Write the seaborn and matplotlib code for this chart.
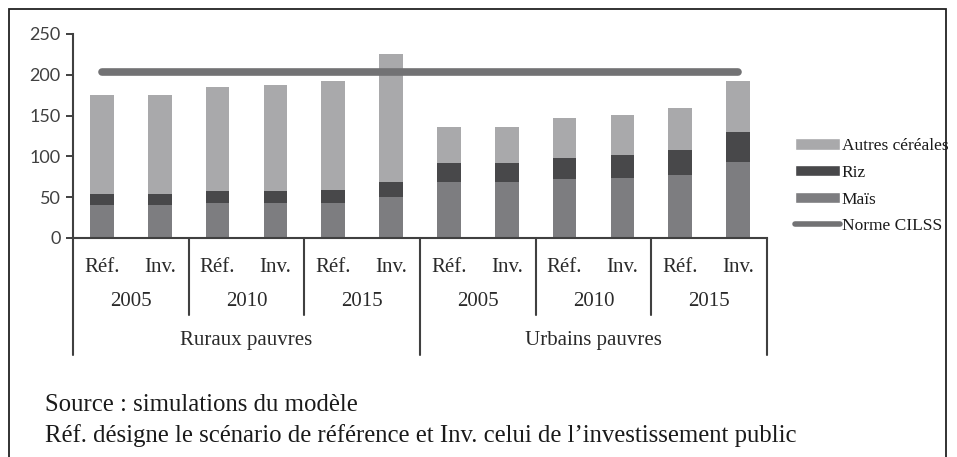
import numpy as np
import matplotlib
matplotlib.use("Agg")
import matplotlib.pyplot as plt
import matplotlib.transforms as mtransforms
from matplotlib.patches import Patch, Rectangle
from matplotlib.lines import Line2D
import seaborn as sns

# data
groups = ["Ruraux pauvres", "Urbains pauvres"]
years = ["2005", "2010", "2015"]
scenarios = ["Réf.", "Inv."]

mais = [40.6, 40.6, 42.5, 42.5, 43.4, 50.8,
        68.4, 68.4, 72.0, 73.8, 77.0, 93.4]
riz = [13.0, 13.0, 14.5, 14.8, 15.6, 17.6,
       23.3, 23.3, 26.4, 27.8, 30.8, 36.5]
autres = [121.7, 121.7, 128.0, 130.0, 134.0, 157.0,
          44.8, 44.8, 48.3, 48.8, 51.2, 62.3]
norme_cilss = 204

c_autres = "#a9a9ab"
c_riz = "#48484a"
c_mais = "#7d7d80"
c_norme = "#727274"
c_axis = "#404040"

cats = [f"{g}|{y}|{s}" for g in groups for y in years for s in scenarios]
mais = np.array(mais)
riz = np.array(riz)
autres = np.array(autres)
top_riz = mais + riz
total = top_riz + autres

sns.set_style("white")
plt.rcParams["font.family"] = ["Liberation Serif", "DejaVu Serif"]

fig = plt.figure(figsize=(9.57, 4.57), dpi=100)
W, H = 957, 457
ax = fig.add_axes([73 / W, 1 - 238 / H, 694 / W, 204 / H])

bw = 0.41
bar_kw = dict(saturation=1, width=bw, ax=ax, order=cats, linewidth=0)
sns.barplot(x=cats, y=total, color=c_autres, **bar_kw)
sns.barplot(x=cats, y=top_riz, color=c_riz, **bar_kw)
sns.barplot(x=cats, y=mais, color=c_mais, **bar_kw)

xpos = np.arange(len(cats))
ax.plot(xpos, np.full(len(cats), norme_cilss), color=c_norme, lw=5.5,
        solid_capstyle="round", zorder=5)

ax.set_xlim(-0.5, len(cats) - 0.5)
ax.set_ylim(0, 250)
ax.set_yticks(range(0, 251, 50))
ax.set_xticks([])
ax.set_xlabel("")
ax.set_ylabel("")
for sp in ["top", "right"]:
    ax.spines[sp].set_visible(False)
for sp in ["left", "bottom"]:
    ax.spines[sp].set_color(c_axis)
    ax.spines[sp].set_linewidth(1.5)
ax.tick_params(axis="y", left=True, length=5, width=1.4, color=c_axis,
               labelsize=13, labelcolor=c_axis, pad=4)
for lab in ax.get_yticklabels():
    lab.set_fontfamily("Lato")

# multi-level category axis
trans = mtransforms.blended_transform_factory(ax.transData, fig.transFigure)
fy = lambda px: 1 - px / H
lab_kw = dict(transform=trans, ha="center", va="center", fontsize=15, color="#2a2a2a")

for i, c in enumerate(cats):
    ax.text(i, fy(268), c.split("|")[2], **lab_kw)

n_s = len(scenarios)
for k in range(len(groups) * len(years)):
    ax.text(k * n_s + (n_s - 1) / 2, fy(302), years[k % len(years)], **lab_kw)

n_g = len(years) * n_s
for g, name in enumerate(groups):
    ax.text(g * n_g + (n_g - 1) / 2, fy(341), name, **lab_kw)

for b in range(len(cats) + 1):
    if b % n_s:
        continue
    xb = b - 0.5
    end = 355 if b % n_g == 0 else 315
    ax.add_line(Line2D([xb, xb], [fy(238), fy(end)], transform=trans,
                       color=c_axis, lw=1.5, clip_on=False))

handles = [
    Patch(facecolor=c_autres, label="Autres céréales"),
    Patch(facecolor=c_riz, label="Riz"),
    Patch(facecolor=c_mais, label="Maïs"),
    Line2D([0], [0], color=c_norme, lw=4, solid_capstyle="round", label="Norme CILSS"),
]
fig.legend(handles=handles, loc="upper left", bbox_to_anchor=(795 / W, fy(138)),
           frameon=False, fontsize=12.5, handlelength=2.6, handleheight=0.65,
           handletextpad=0.1, labelspacing=0.62, borderpad=0, borderaxespad=0,
           labelcolor="#1a1a1a")

fig.text(45 / W, fy(405), "Source : simulations du modèle", fontsize=17.8,
         va="center", color="#1a1a1a")
fig.text(45 / W, fy(436),
         "Réf. désigne le scénario de référence et Inv. celui de l’investissement public",
         fontsize=17.8, va="center", color="#1a1a1a")

fig.add_artist(Rectangle((9 / W, -0.1), (946 - 9) / W, 0.1 + 1 - 9 / H,
                         transform=fig.transFigure, fill=False, lw=1.3,
                         edgecolor="#222222"))

fig.savefig("out.png", dpi=100)
